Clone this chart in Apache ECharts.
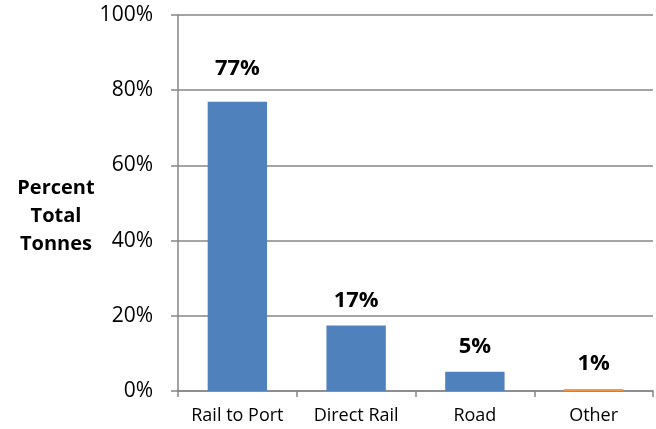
<!DOCTYPE html>
<html><head><meta charset="utf-8">
<script src="https://cdn.jsdelivr.net/npm/echarts@6/dist/echarts.min.js"></script>
<style>html,body{margin:0;padding:0;background:#fff}#c{width:656px;height:429px}</style>
</head><body><div id="c"></div>
<script>
var categories = ['Rail to Port', 'Direct Rail', 'Road', 'Other'];
var values = [76.9, 17.4, 5.1, 0.5];
var labels = ['77%', '17%', '5%', '1%'];
var colors = ['#4F81BD', '#4F81BD', '#4F81BD', '#F79646'];
var yTicks = [0, 20, 40, 60, 80, 100];

var font = 'Open Sans';
var chart = echarts.init(document.getElementById('c'));
chart.setOption({
  animation: false,
  title: {
    text: 'Percent\nTotal\nTonnes',
    left: 51, top: 169, textAlign: 'center',
    textStyle: {fontFamily: font, fontWeight: 'bold', fontSize: 20, lineHeight: 28, color: '#000'}
  },
  grid: {left: 178, right: 3, top: 15, bottom: 38},
  xAxis: {
    type: 'category', data: categories,
    axisLine: {lineStyle: {color: '#868686', width: 1.5}},
    axisTick: {show: true, length: 6, interval: 0, lineStyle: {color: '#868686', width: 1.5}},
    axisLabel: {fontFamily: font, fontSize: 18, color: '#000', margin: 16, interval: 0, hideOverlap: false}
  },
  yAxis: {
    type: 'value', min: 0, max: 100, interval: 20,
    axisLine: {show: true, lineStyle: {color: '#868686', width: 1.5}},
    axisTick: {show: true, length: 7, lineStyle: {color: '#868686', width: 1.5}},
    splitLine: {lineStyle: {color: '#868686', width: 1.5}},
    axisLabel: {fontFamily: font, fontSize: 21, color: '#000', margin: 25,
      formatter: function (v) { return yTicks.indexOf(v) >= 0 ? v + '%' : ''; }}
  },
  series: [{
    type: 'bar', barWidth: '50%',
    data: values.map(function (v, i) {
      return {value: v, itemStyle: {color: colors[i]},
        label: {formatter: labels[i], distance: i === 0 ? 22 : 14}};
    }),
    label: {show: true, position: 'top', fontFamily: font, fontWeight: 'bold', fontSize: 22, color: '#000'}
  }]
});
</script></body></html>
